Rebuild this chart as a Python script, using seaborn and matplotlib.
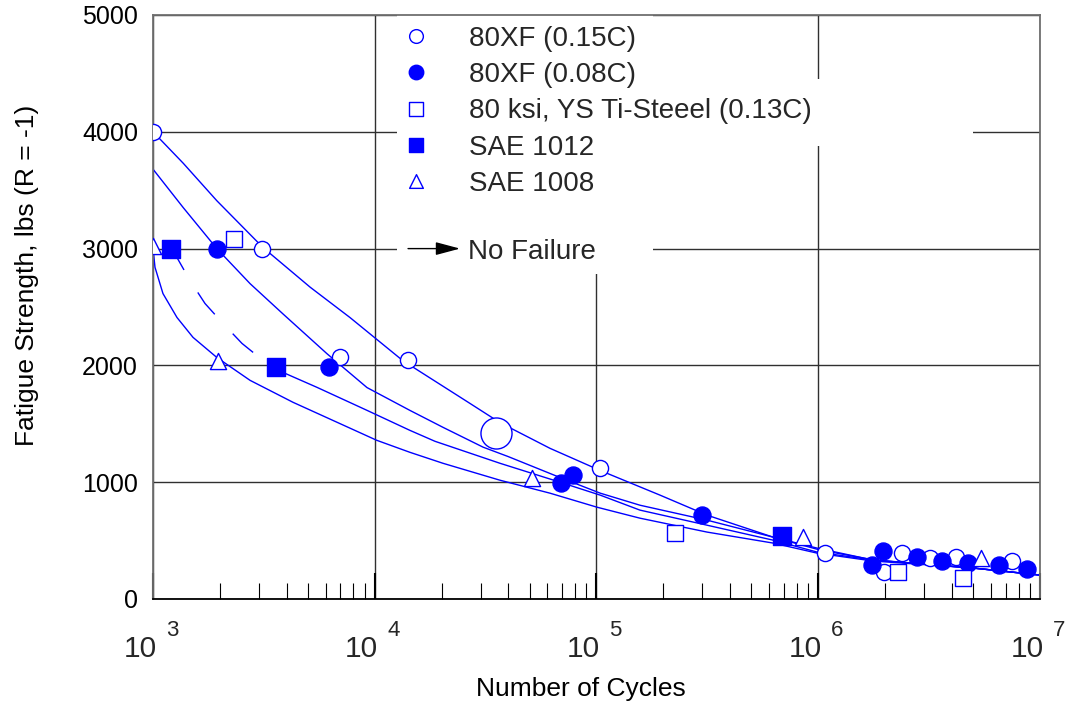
import matplotlib
matplotlib.use("Agg")
import matplotlib.pyplot as plt
import seaborn as sns
from matplotlib.patches import Rectangle
from matplotlib.ticker import LogLocator, NullFormatter, FixedLocator

# ---------------- data ----------------
labels = ["80XF (0.15C)", "80XF (0.08C)", "80 ksi, YS Ti-Steeel (0.13C)",
          "SAE 1012", "SAE 1008"]

xf015_x = [1000, 3100, 7000, 14100, 104000, 1070000, 1980000, 2390000, 3190000, 4180000, 7480000]
xf015_y = [4000, 3000, 2070, 2050, 1120, 393, 231, 393, 350, 359, 325]

big_x = [35200]
big_y = [1420]

xf008_x = [1944, 6220, 69200, 78300, 299000, 1750000, 1960000, 2790000, 3610000, 4730000, 6530000, 8730000]
xf008_y = [3000, 1983, 991, 1060, 718, 291, 410, 359, 325, 308, 291, 256]

ti_x = [2330, 226000, 2290000, 4500000]
ti_y = [3080, 564, 231, 179]

sae1012_x = [1206, 3590, 687000]
sae1012_y = [3000, 1985, 538]

sae1008_x = [1000, 1965, 51200, 854000, 5420000]
sae1008_y = [3020, 2040, 1034, 530, 350]

curve_a_x = [1000, 1370, 1940, 3130, 5110, 7730, 13400, 26100, 36700, 61700, 104000,
             193000, 315000, 625000, 1020000, 1770000, 5000000, 10000000]
curve_a_y = [4000, 3730, 3410, 3010, 2670, 2410, 2040, 1690, 1510, 1290, 1100,
             890, 718, 530, 419, 335, 265, 205]

curve_b_x = [1000, 1370, 1940, 2740, 3860, 6090, 9230, 14400, 20300, 30800, 39900,
             68500, 104000, 157000, 315000, 625000, 987000, 1770000, 5000000, 10000000]
curve_b_y = [3680, 3350, 3000, 2700, 2440, 2100, 1810, 1615, 1470, 1300, 1220,
             1040, 906, 803, 675, 530, 436, 333, 265, 205]

curve_c_dash_x = [1206, 1283, 1469, 1716, 2069, 2520, 3133, 3590]
curve_c_dash_y = [3000, 2923, 2726, 2530, 2359, 2188, 2043, 1985]
curve_c_x = [3590, 3940, 5490, 9230, 14400, 18700, 36700, 68500, 104000, 157000,
             315000, 625000, 987000, 1770000, 5000000, 10000000]
curve_c_y = [1985, 1932, 1812, 1615, 1444, 1350, 1162, 1000, 889, 761,
             632, 504, 402, 333, 265, 205]

curve_d_x = [1000, 1021, 1109, 1283, 1515, 1940, 2740, 4280, 6760, 10200, 14400,
             20300, 36700, 61700, 100500, 157000, 315000, 625000, 987000, 1770000,
             5000000, 10000000]
curve_d_y = [3000, 2840, 2615, 2410, 2240, 2068, 1872, 1684, 1513, 1359, 1256,
             1162, 1017, 906, 786, 692, 573, 479, 393, 325, 265, 205]

decades = [3, 4, 5, 6, 7]
y_ticks = [0, 1000, 2000, 3000, 4000, 5000]

# ---------------- styling ----------------
sns.set_theme(style="white")
plt.rcParams['font.family'] = ['Liberation Sans', 'DejaVu Sans']
BLUE = '#0000FF'

fig = plt.figure(figsize=(10.7, 7.09), dpi=100)
ax = fig.add_axes([0.14299, 0.15515, 0.82897, 0.82370])
ax.set_xscale('log')
ax.set_xlim(1e3, 1e7)
ax.set_ylim(0, 5000)

# curves
for cx, cy in [(curve_a_x, curve_a_y), (curve_b_x, curve_b_y),
               (curve_c_x, curve_c_y), (curve_d_x, curve_d_y)]:
    sns.lineplot(x=cx, y=cy, ax=ax, color=BLUE, lw=1.0, estimator=None,
                 sort=False, legend=False, zorder=2)
sns.lineplot(x=curve_c_dash_x, y=curve_c_dash_y, ax=ax, color=BLUE, lw=1.0,
             estimator=None, sort=False, legend=False, zorder=2,
             linestyle=(2, (20, 19)))

# markers
S = 135
sns.scatterplot(x=xf015_x, y=xf015_y, ax=ax, marker='o', s=S, facecolor='white',
                edgecolor=BLUE, linewidth=1.0, zorder=3, label=labels[0])
sns.scatterplot(x=big_x, y=big_y, ax=ax, marker='o', s=500, facecolor='white',
                edgecolor=BLUE, linewidth=1.0, zorder=3)
sns.scatterplot(x=xf008_x, y=xf008_y, ax=ax, marker='o', s=150, color=BLUE,
                edgecolor=BLUE, linewidth=1.0, zorder=3, label=labels[1])
sns.scatterplot(x=ti_x, y=ti_y, ax=ax, marker='s', s=S, facecolor='white',
                edgecolor=BLUE, linewidth=1.0, zorder=3, label=labels[2])
sns.scatterplot(x=sae1012_x, y=sae1012_y, ax=ax, marker='s', s=150, color=BLUE,
                edgecolor=BLUE, linewidth=1.0, zorder=3, label=labels[3])
sns.scatterplot(x=sae1008_x, y=sae1008_y, ax=ax, marker='^', s=S, facecolor='white',
                edgecolor=BLUE, linewidth=1.0, zorder=3, label=labels[4])

# grid & blanking behind texts
ax.set_axisbelow(True)
ax.grid(True, which='major', color='#303030', lw=1.0)
ax.grid(False, which='minor')
ax.add_patch(Rectangle((0.2751, 0.5565), 0.2886, 0.4435, transform=ax.transAxes,
                       facecolor='white', edgecolor='none', zorder=0.8))
ax.add_patch(Rectangle((0.2818, 0.7757), 0.6427, 0.1147, transform=ax.transAxes,
                       facecolor='white', edgecolor='none', zorder=0.8))

# spines
for side in ['left', 'top', 'right']:
    ax.spines[side].set_color('#707070')
    ax.spines[side].set_linewidth(1.3)
ax.spines['bottom'].set_color('black')
ax.spines['bottom'].set_linewidth(1.3)

# ticks
ax.xaxis.set_major_locator(FixedLocator([10.0 ** d for d in decades]))
ax.xaxis.set_minor_locator(LogLocator(base=10, subs=[2, 3, 4, 5, 6, 7, 8, 9]))
ax.xaxis.set_major_formatter(NullFormatter())
ax.xaxis.set_minor_formatter(NullFormatter())
ax.tick_params(axis='x', which='major', direction='in', length=18.7, width=1.5,
               color='black', bottom=True, top=False)
ax.tick_params(axis='x', which='minor', direction='in', length=11.5, width=0.8,
               color='black', bottom=True, top=False)
ax.set_yticks(y_ticks)
ax.set_yticklabels([str(v) for v in y_ticks])
ax.tick_params(axis='y', length=0, pad=10.8, labelsize=18, labelcolor='black')

for d in decades:
    ax.annotate('10', xy=(10.0 ** d, 0), xycoords=('data', 'axes fraction'),
                xytext=(-9.4, -41.8), textcoords='offset points', ha='center',
                va='baseline', fontsize=21.5, annotation_clip=False)
    ax.annotate(str(d), xy=(10.0 ** d, 0), xycoords=('data', 'axes fraction'),
                xytext=(9.4, -26.6), textcoords='offset points', ha='left',
                va='baseline', fontsize=16, annotation_clip=False)

ax.set_xlabel('Number of Cycles', fontsize=19, color='black')
ax.xaxis.set_label_coords(0.4825, -0.134)
ax.set_ylabel('Fatigue Strength, lbs (R = -1)', fontsize=19, color='black')
ax.yaxis.set_label_coords(-0.128, 0.555)

# legend
handles, labs = ax.get_legend_handles_labels()
order = [labs.index(l) for l in labels]
leg = ax.legend([handles[i] for i in order], [labs[i] for i in order],
                loc='upper left', bbox_to_anchor=(0.2807, 0.9814), frameon=False,
                fontsize=20, handlelength=1.0, handletextpad=1.4, labelspacing=0.37,
                borderpad=0, borderaxespad=0, markerscale=0.85,
                scatteryoffsets=[0.5])
leg.set_zorder(5)

# No Failure note
ax.annotate('', xy=(24240, 3000), xytext=(14130, 3000),
            arrowprops=dict(arrowstyle='-|>,head_length=0.75,head_width=0.2',
                            mutation_scale=20, color='black', lw=1.0,
                            shrinkA=0, shrinkB=0), zorder=4)
ax.annotate('No Failure', xy=(26330, 3000), xytext=(0, -7.2),
            textcoords='offset points', ha='left', va='baseline', fontsize=20,
            zorder=4)

fig.savefig('out.png', dpi=100)
